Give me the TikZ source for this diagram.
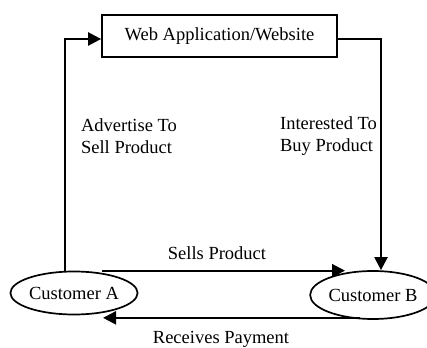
\documentclass[tikz,border=0pt]{standalone}
\usepackage{fontspec}
\setmainfont{Liberation Serif}
\usepackage{tikz}
\usetikzlibrary{shapes.geometric, arrows.meta, positioning, calc}

\begin{document}
\begin{tikzpicture}[x=1pt, y=1pt,
    font=\fontsize{18.5}{22}\selectfont,
    line width=2.2pt,
    flow/.style={-{Triangle[length=13pt, width=13pt]}},
    customer/.style={ellipse, draw, line width=1.7pt, inner sep=0pt},
    lbl/.style={inner sep=0pt, align=left}]

\useasboundingbox (0,0) rectangle (427,347);

% Website box
\node[rectangle, draw, line width=1.7pt, minimum width=235pt,
      minimum height=42pt] (webapp) at (219.5,311) {Web Application/Website\hspace{10pt}};

% Customers
\node[customer, minimum width=125pt, minimum height=43pt] (custA) at (74,54) {Customer A};
\node[customer, minimum width=114pt, minimum height=48pt] (custB) at (373,52) {Customer B};

% Corners of the outer loop
\coordinate (lcorner) at (65,308);
\coordinate (rcorner) at (381,308);
\coordinate (paystart) at ([xshift=-13pt, yshift=2pt]custB.south);

% Outer loop
\draw[flow] (lcorner |- custA.north) -- (lcorner) -- (lcorner -| webapp.west);
\draw[flow] (webapp.east |- rcorner) -- (rcorner) -- (rcorner |- custB.north);

% Trade between customers
\draw[flow] ([xshift=28pt]custA.north) -- ([xshift=-28pt]custB.north |- custA.north);
\draw[flow] (paystart) -- ([xshift=29pt]custA.south |- paystart);

% Labels
\node[lbl, anchor=west] (advert) at (80,211) {Advertise To\\Sell Product};
\node[lbl, anchor=west] (interest) at (279,211) {Interested To\\Buy Product};
\node[lbl] (sells) at (217,94) {Sells Product};
\node[lbl] (payment) at (221,8) {Receives Payment};

\end{tikzpicture}
\end{document}
